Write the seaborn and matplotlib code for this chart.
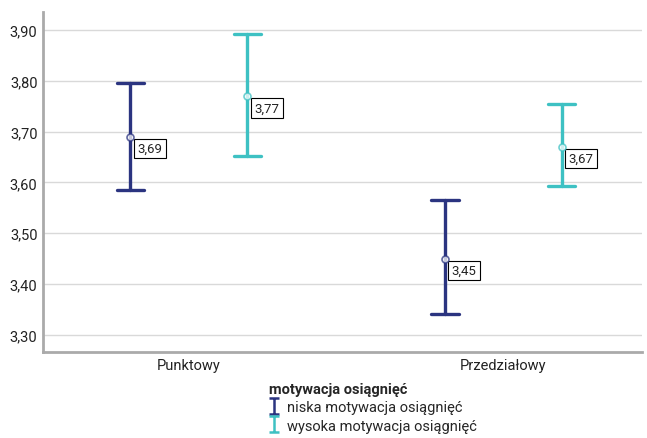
import matplotlib
matplotlib.use("Agg")
import matplotlib.pyplot as plt
from matplotlib.lines import Line2D
from matplotlib.path import Path
from matplotlib.ticker import FuncFormatter
import seaborn as sns
import pandas as pd

categories = ["Punktowy", "Przedziałowy"]
groups = ["niska motywacja osiągnięć", "wysoka motywacja osiągnięć"]
means = {"niska motywacja osiągnięć": [3.69, 3.45],
         "wysoka motywacja osiągnięć": [3.77, 3.67]}
lower = {"niska motywacja osiągnięć": [3.584, 3.341],
         "wysoka motywacja osiągnięć": [3.651, 3.592]}
upper = {"niska motywacja osiągnięć": [3.795, 3.565],
         "wysoka motywacja osiągnięć": [3.893, 3.754]}
colors = ["#2b3480", "#3ec1c3"]
legend_title = "motywacja osiągnięć"

# rows: low, mean, high -> median gives the mean, full range gives the interval
rows = []
for g in groups:
    for i, c in enumerate(categories):
        for v in (lower[g][i], means[g][i], upper[g][i]):
            rows.append({"typ": c, "grupa": g, "wartosc": v})
df = pd.DataFrame(rows)

sns.set_theme(style="white")
plt.rcParams["font.family"] = ["Roboto", "DejaVu Sans"]

fig = plt.figure(figsize=(6.47, 4.39), dpi=100)
ax = fig.add_axes([0.0665, 0.196, 0.925, 0.774])

dodge = 0.372
sns.pointplot(data=df, x="typ", y="wartosc", hue="grupa", order=categories,
              hue_order=groups, palette=colors, estimator="median",
              errorbar=("pi", 100), dodge=dodge, linestyle="none",
              capsize=0.088, err_kws={"linewidth": 2.4}, marker="o",
              markersize=5, ax=ax, legend=False)

# hollow, lighter markers
for line in ax.lines:
    if line.get_marker() == "o":
        line.set_markerfacecolor("white")
        line.set_markeredgewidth(1.2)
        line.set_alpha(0.75)
        line.set_zorder(5)

# value labels
for j, g in enumerate(groups):
    off = -dodge / 2 + j * dodge
    for i, c in enumerate(categories):
        ax.annotate(f"{means[g][i]:.2f}".replace(".", ","),
                    xy=(i + off, means[g][i]), xytext=(5, -8.5),
                    textcoords="offset points", ha="left", va="center",
                    fontsize=9.5, color="#222222",
                    bbox=dict(boxstyle="square,pad=0.25", fc="white",
                              ec="black", lw=0.8))

ax.set_xlim(-0.464, 1.44)
ax.set_ylim(3.266, 3.935)
ax.set_yticks([3.3, 3.4, 3.5, 3.6, 3.7, 3.8, 3.9])
ax.yaxis.set_major_formatter(FuncFormatter(lambda v, p: f"{v:.2f}".replace(".", ",")))
ax.grid(axis="y", color="#d9d9d9", linewidth=1)
ax.set_axisbelow(True)
ax.set_xlabel("")
ax.set_ylabel("")
ax.tick_params(axis="both", length=0, labelsize=10.5, colors="#222222", pad=4)
for s in ["top", "right"]:
    ax.spines[s].set_visible(False)
for s in ["left", "bottom"]:
    ax.spines[s].set_color("#aaaaaa")
    ax.spines[s].set_linewidth(2)

ibeam = Path([(-0.6, -1), (0.6, -1), (0, -1), (0, 1), (-0.6, 1), (0.6, 1)],
             [Path.MOVETO, Path.LINETO, Path.MOVETO, Path.LINETO,
              Path.MOVETO, Path.LINETO])
handles = [Line2D([], [], linestyle="none", marker=ibeam, markersize=11,
                  markeredgewidth=1.8, markerfacecolor="none",
                  markeredgecolor=c) for c in colors]
leg = fig.legend(handles, groups, title=legend_title, loc="upper left",
                 bbox_to_anchor=(0.415, 0.128), frameon=False, fontsize=10.5,
                 handlelength=0.8, handletextpad=0.5, labelspacing=0.3,
                 borderpad=0, borderaxespad=0, alignment="left")
leg.get_title().set_fontweight("bold")
leg.get_title().set_fontsize(10.5)

fig.savefig("out.png", dpi=100)
